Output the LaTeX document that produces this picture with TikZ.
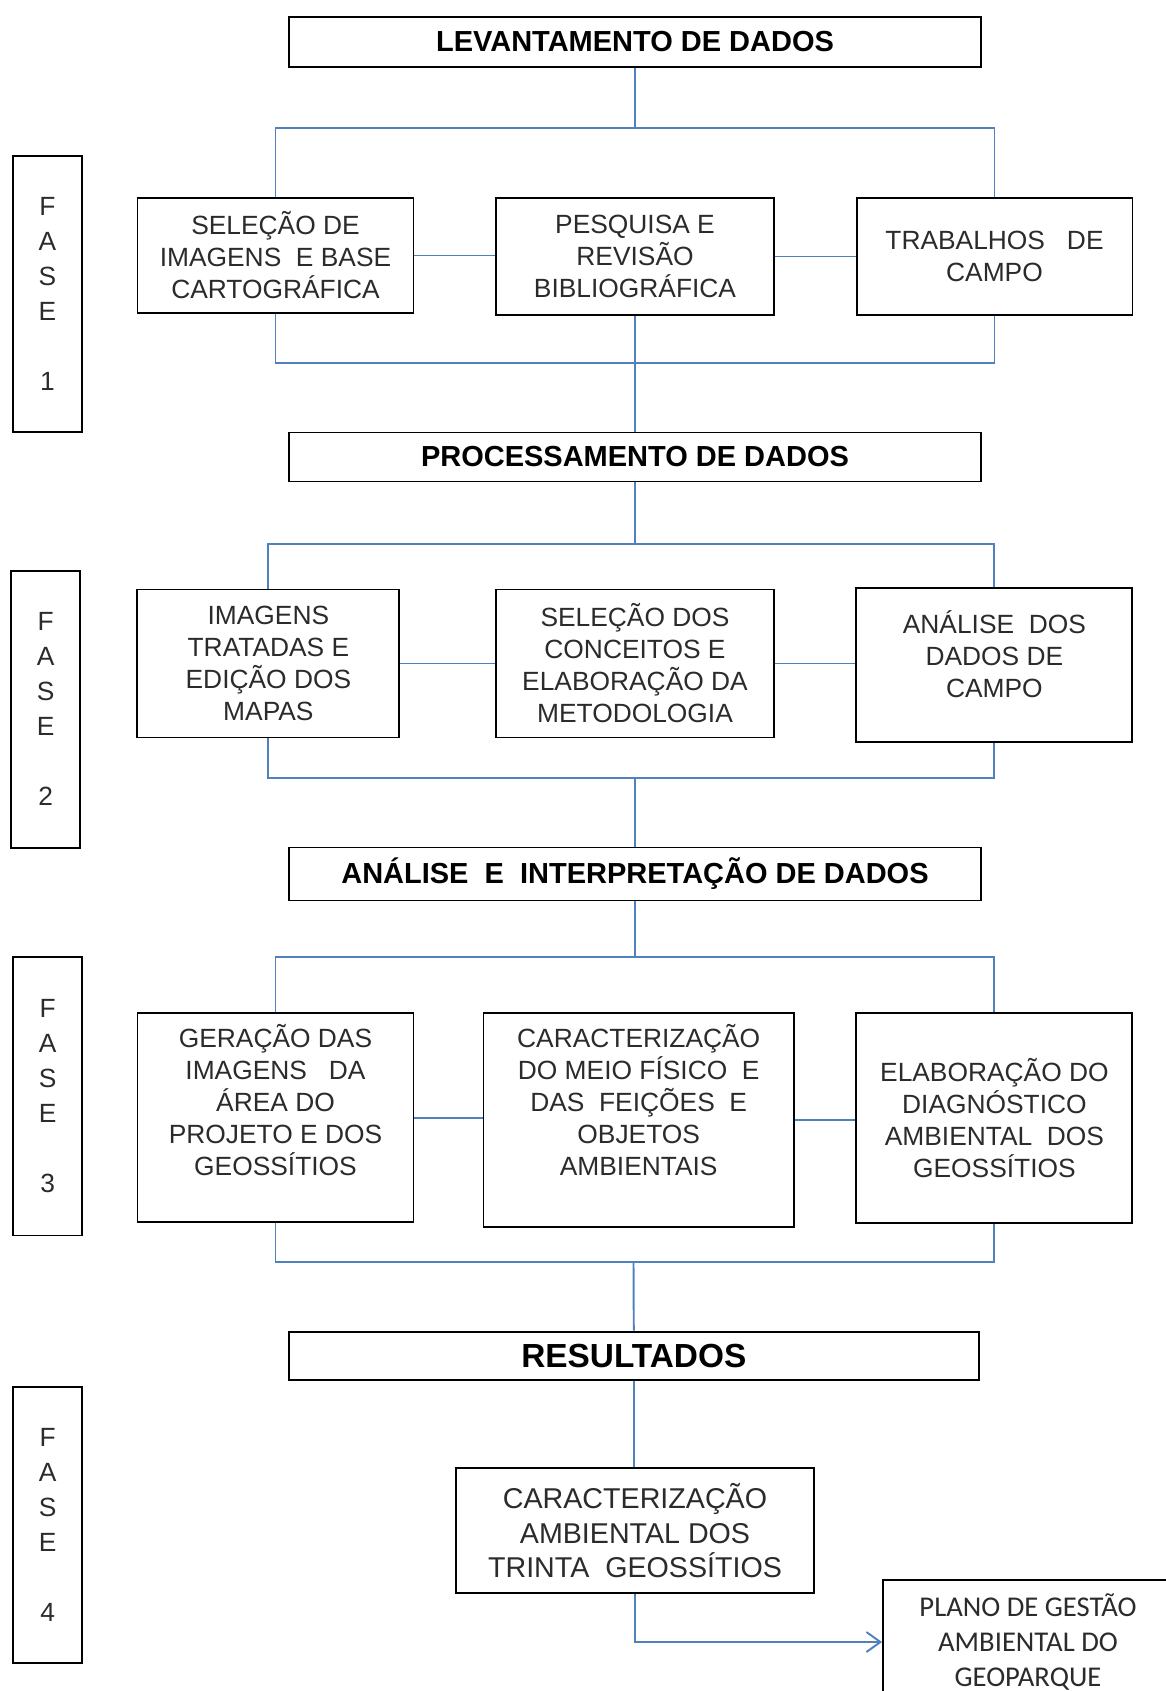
\documentclass[tikz,border=0pt]{standalone}
\usepackage{fontspec}
\setmainfont{Liberation Sans}
\newfontfamily\calibri{Carlito}
\usepackage{tikz}
\usetikzlibrary{arrows.meta,positioning,calc}
\definecolor{linha}{HTML}{4F81BD}
\definecolor{texto}{HTML}{2B2B2B}

\begin{document}
\begin{tikzpicture}[x=0.02cm,y=-0.02cm,
  titulo/.style={draw=black,line width=1.1pt,inner sep=0pt,minimum width=13.84cm,font=\bfseries\fontsize{16.5}{19}\selectfont},
  caixa/.style={draw=black,line width=1.1pt,inner sep=0pt,align=center,text=texto,font=\fontsize{15}{18.2}\selectfont},
  fase/.style={draw=black,line width=1.1pt,inner sep=0pt,align=center,text=texto,minimum width=1.38cm,font=\fontsize{15}{19.9}\selectfont},
  liga/.style={draw=linha,line width=1.1pt}]
\useasboundingbox (0,0) rectangle (1166,1691);
\clip (0,0) rectangle (1166,1691);

% fase 1
\node[titulo,minimum height=1.0cm] (lev) at (635,42) {LEVANTAMENTO DE DADOS};
\node[fase,minimum height=5.52cm] (fase1) at (47.5,294) {F\\A\\S\\E\\[0.7cm]1};
\node[caixa,minimum width=5.52cm,minimum height=2.30cm] (sel) at (275.5,255.5) {SELEÇÃO DE\\IMAGENS\ \ E BASE\\CARTOGRÁFICA};
\node[caixa,minimum width=5.56cm,minimum height=2.34cm] (pes) at (635,256.5) {PESQUISA E\\REVISÃO\\BIBLIOGRÁFICA};
\node[caixa,minimum width=5.52cm,minimum height=2.34cm] (trab) at (994.5,256.5) {TRABALHOS\ \ \ DE\\CAMPO};
\coordinate (b1) at (635,128);
\coordinate (b2) at (635,363);
\draw[liga] (lev.south) -- (b1);
\draw[liga] (sel.north) |- (b1) -| (trab.north);
\draw[liga] (sel.east) -- (sel.east -| pes.west);
\draw[liga] (pes.east) -- (pes.east -| trab.west);
\draw[liga] (sel.south) |- (b2) -| (trab.south);

% fase 2
\node[titulo,minimum height=0.98cm] (proc) at (635,457) {PROCESSAMENTO DE DADOS};
\draw[liga] (pes.south) -- (proc.north);
\node[fase,minimum height=5.54cm] (fase2) at (45.7,709.3) {F\\A\\S\\E\\[0.7cm]2};
\node[caixa,minimum width=5.24cm,minimum height=2.96cm] (img) at (268.4,663.5) {IMAGENS\\TRATADAS E\\EDIÇÃO DOS\\MAPAS};
\node[caixa,minimum width=5.56cm,minimum height=2.96cm] (selc) at (635,663.5) {SELEÇÃO DOS\\CONCEITOS E\\ELABORAÇÃO DA\\METODOLOGIA};
\node[caixa,minimum width=5.52cm,minimum height=3.08cm,text depth=0.42cm] (anal) at (994.4,664.7) {ANÁLISE\ \ DOS\\DADOS DE\\CAMPO};
\coordinate (b3) at (635,544);
\coordinate (b4) at (635,777.7);
\draw[liga] (proc.south) -- (b3);
\draw[liga] (img.north) |- (b3) -| (anal.north);
\draw[liga] (img.east) -- (img.east -| selc.west);
\draw[liga] (selc.east) -- (selc.east -| anal.west);
\draw[liga] (img.south) |- (b4) -| (anal.south);

% fase 3
\node[titulo,minimum height=1.06cm] (ana) at (635,874) {ANÁLISE\ \ E\ \ INTERPRETAÇÃO DE DADOS};
\draw[liga] (b4) -- (ana.north);
\node[fase,minimum height=5.58cm] (fase3) at (47.6,1096) {F\\A\\S\\E\\[0.7cm]3};
\node[caixa,minimum width=5.52cm,minimum height=4.18cm,text depth=0.7cm] (ger) at (275.5,1117.8) {GERAÇÃO DAS\\IMAGENS\ \ \ DA\\ÁREA DO\\PROJETO E DOS\\GEOSSÍTIOS};
\node[caixa,minimum width=6.21cm,minimum height=4.27cm,text depth=0.8cm] (car) at (638.7,1120) {CARACTERIZAÇÃO\\DO MEIO FÍSICO\ \ E\\DAS\ \ FEIÇÕES\ \ E\\OBJETOS\\AMBIENTAIS};
\node[caixa,minimum width=5.52cm,minimum height=4.19cm] (elab) at (994.4,1118) {ELABORAÇÃO DO\\DIAGNÓSTICO\\AMBIENTAL\ \ DOS\\GEOSSÍTIOS};
\coordinate (b5) at (635,957.3);
\coordinate (b6) at (633.5,1261.7);
\draw[liga] (ana.south) -- (b5);
\draw[liga] (ger.north) |- (b5) -| (elab.north);
\draw[liga] (ger.east) -- (ger.east -| car.west);
\draw[liga] (car.east) -- (car.east -| elab.west);
\draw[liga] (ger.south) |- (b6) -| (elab.south);

% fase 4
\node[titulo,minimum width=13.81cm,minimum height=0.97cm,font=\bfseries\fontsize{19}{22}\selectfont] (res) at (633.8,1355.8) {RESULTADOS};
\draw[liga] (b6) -- (res.north);
\node[fase,minimum height=5.53cm] (fase4) at (47.6,1525) {F\\A\\S\\E\\[0.7cm]4};
\node[caixa,minimum width=7.17cm,minimum height=2.5cm,font=\fontsize{16.3}{19.6}\selectfont] (car4) at (635,1530.8) {CARACTERIZAÇÃO\\AMBIENTAL DOS\\TRINTA\ \ GEOSSÍTIOS};
\node[caixa,minimum width=5.8cm,minimum height=2.48cm,font=\calibri\fontsize{16.3}{19.9}\selectfont] (plano) at (1028,1642) {PLANO DE GESTÃO\\AMBIENTAL DO\\GEOPARQUE};
\draw[liga] (res.south) -- (res.south |- car4.north);
\draw[liga,-{Straight Barb[length=0.28cm,width=0.4cm]}] (car4.south) |- (plano.west);
\end{tikzpicture}
\end{document}
